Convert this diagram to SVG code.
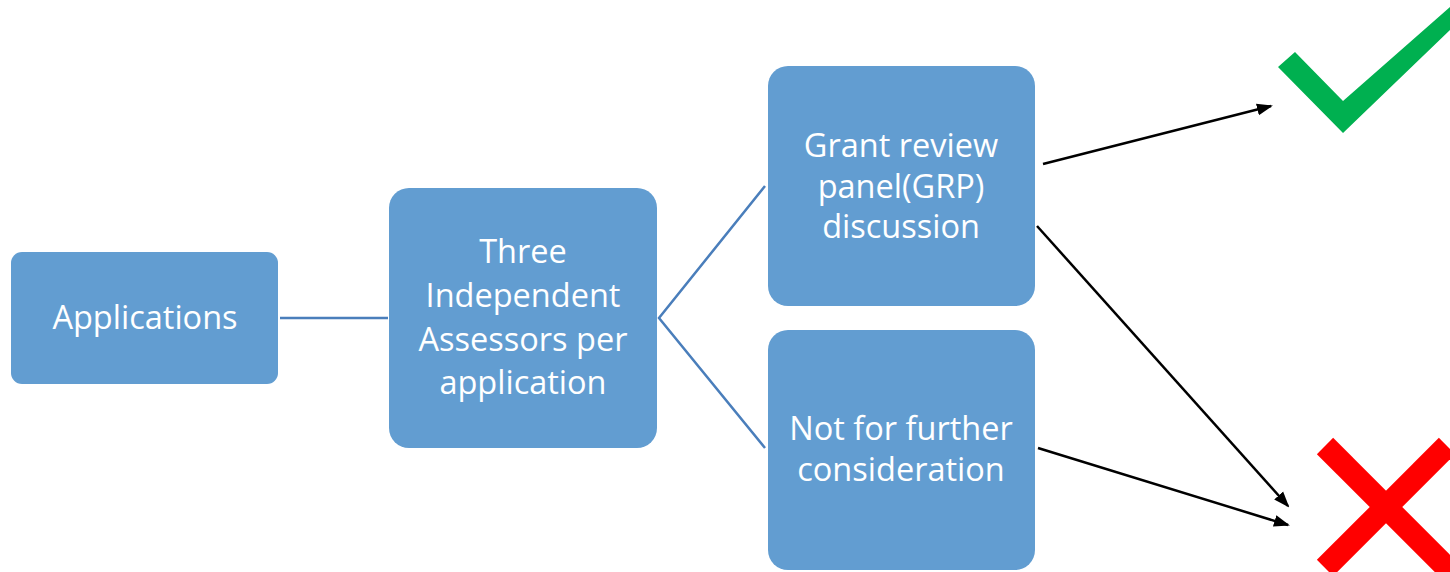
<svg xmlns="http://www.w3.org/2000/svg" width="1450" height="572" viewBox="0 0 1450 572">
<style>
.box{fill:#629DD1;}
.t{fill:#FFFFFF;font-family:"Open Sans","Liberation Sans",sans-serif;font-size:32.5px;text-anchor:middle;}
.ln{stroke:#4A7EBB;stroke-width:2.5;fill:none;}
.ar{stroke:#000000;stroke-width:2.5;fill:none;marker-end:url(#ah);}
</style>
<defs>
<marker id="ah" markerWidth="16" markerHeight="14" refX="14" refY="6" orient="auto" markerUnits="userSpaceOnUse" viewBox="0 0 16 12">
<path d="M0,0 L16,6 L0,12 Z" fill="#000000"/>
</marker>
</defs>
<rect width="1450" height="572" fill="#FFFFFF"/>
<g id="connectors">
<line class="ln" x1="280" y1="318" x2="388" y2="318"/>
<polyline class="ln" points="765,186 659,318 765,448"/>
<line class="ar" x1="1043" y1="164" x2="1271" y2="106"/>
<line class="ar" x1="1037" y1="226" x2="1288" y2="506"/>
<line class="ar" x1="1038" y1="448" x2="1288" y2="525"/>
</g>
<g id="applications">
<rect class="box" x="11" y="252" width="267" height="132" rx="11"/>
<text class="t" x="145" y="329">Applications</text>
</g>
<g id="assessors">
<rect class="box" x="389" y="188" width="268" height="260" rx="20"/>
<text class="t" x="523" y="263">Three</text>
<text class="t" x="523" y="307">Independent</text>
<text class="t" x="523" y="351">Assessors per</text>
<text class="t" x="523" y="394">application</text>
</g>
<g id="grp">
<rect class="box" x="768" y="66" width="267" height="240" rx="20"/>
<text class="t" x="901" y="157">Grant review</text>
<text class="t" x="901" y="198">panel(GRP)</text>
<text class="t" x="901" y="238">discussion</text>
</g>
<g id="notfurther">
<rect class="box" x="768" y="330" width="267" height="240" rx="20"/>
<text class="t" x="901" y="440">Not for further</text>
<text class="t" x="901" y="481">consideration</text>
</g>
<g id="check">
<polygon points="1278,67 1295,52 1343,101 1450,7 1450,30 1343,133" fill="#00B050"/>
</g>
<g id="cross">
<line x1="1325" y1="446" x2="1460" y2="581" stroke="#FF0000" stroke-width="23"/>
<line x1="1447" y1="446" x2="1325" y2="568" stroke="#FF0000" stroke-width="23"/>
</g>
</svg>
